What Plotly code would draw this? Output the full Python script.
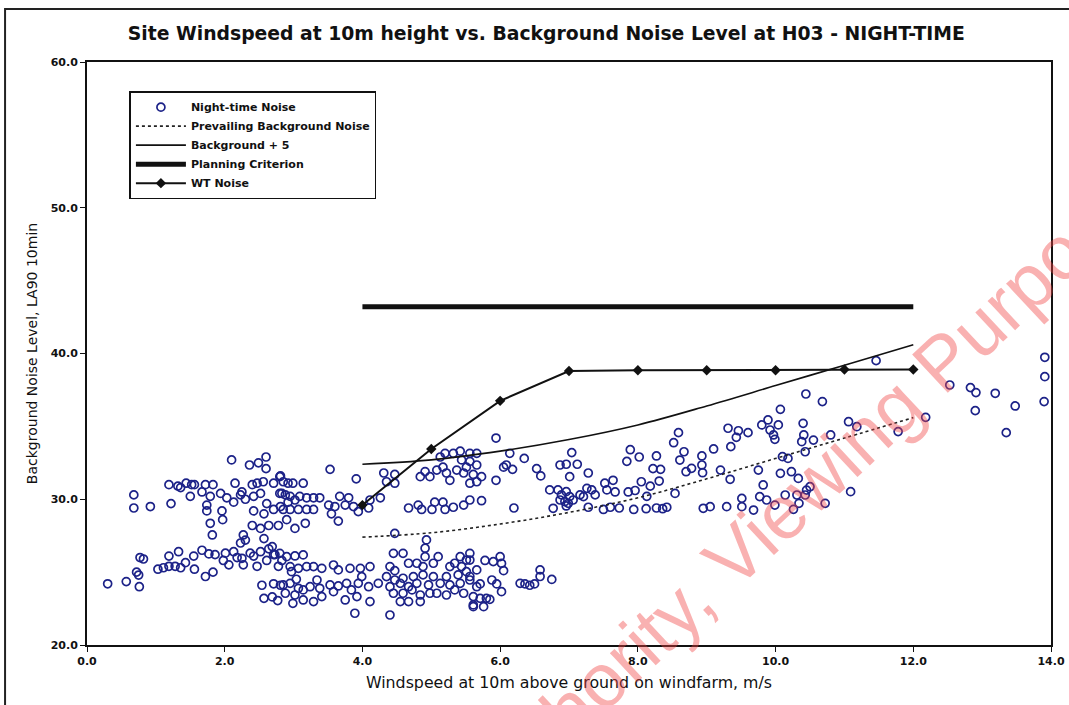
import plotly.graph_objects as go

# ---------------- data ----------------
night_ws = [
    2.1, 2.36, 2.49, 2.6, 2.6, 0.68, 0.68, 0.92, 1.22, 1.19, 1.32, 1.36, 1.44, 1.52, 1.56, 1.72, 1.83,
    1.5, 1.67, 1.79, 1.94, 2.03, 2.13, 2.23, 2.3, 2.42, 2.52, 2.15, 2.25, 2.4, 2.47, 2.56, 2.71, 2.81,
    2.83, 1.74, 1.74, 1.96, 1.97, 1.79, 1.82, 2.42, 2.61, 2.57, 2.71, 2.81, 2.4, 2.52, 2.64, 2.78,
    2.27, 2.3, 2.23, 2.57, 2.69, 2.71,
    0.3, 0.57, 0.76, 0.75, 0.72, 0.77, 0.82, 1.03, 1.11, 1.19, 1.28, 1.36, 1.43, 1.55, 1.56, 1.72,
    1.83, 1.19, 1.33, 1.67, 1.77, 1.86, 1.98, 2.01, 2.06, 2.13, 2.18, 2.25, 2.27, 2.37, 2.47, 2.42,
    2.52, 2.61, 2.64, 2.73, 2.78, 2.83, 2.54, 2.71, 2.81, 2.57, 2.69, 2.77,
    2.8, 2.85, 2.92, 2.99, 3.14, 3.53, 3.91, 2.8, 2.88, 2.95, 2.92, 3.02, 3.09, 3.19, 3.29, 3.38,
    3.51, 3.6, 3.67, 3.8, 3.75, 3.87, 2.85, 2.95, 3.07, 3.19, 3.29, 2.9, 3.02, 3.17, 3.55, 3.65,
    3.94, 4.09, 4.11, 4.26, 4.31, 4.35, 4.47, 4.47, 4.67, 4.81, 4.86, 5.01, 5.05, 5.17, 5.2, 5.32,
    5.47, 4.84, 4.91, 4.98, 5.08, 5.17, 5.22, 5.27, 5.13, 5.2, 5.32, 5.42, 5.44, 5.51, 5.37, 5.47,
    4.47,
    2.8, 2.9, 3.02, 3.14, 2.95, 3.07, 3.19, 3.29, 3.41, 3.58, 3.65, 3.82, 3.97, 4.11, 2.97, 2.85,
    2.95, 3.04, 3.07, 3.14, 3.24, 3.34, 3.38, 3.53, 3.65, 3.77, 3.84, 3.94, 4.09, 3.99, 4.23, 2.88,
    3.02, 3.14, 3.29, 3.41, 3.58, 3.75, 3.92, 4.11, 2.99, 3.89, 4.4,
    4.45, 4.59, 4.93, 4.91, 4.4, 4.47, 4.67, 4.79, 4.91, 4.88, 5.03, 5.1, 5.27, 5.34, 5.42, 5.44,
    5.51, 4.35, 4.47, 4.59, 4.74, 4.88, 5.03, 5.22, 5.39, 5.51, 5.66, 4.4, 4.55, 4.67, 4.79, 4.96,
    5.13, 5.27, 5.42, 5.56, 4.45, 4.59, 4.72, 4.84, 4.98, 5.08, 5.22, 5.34, 5.47, 5.61, 4.55, 4.67,
    4.84, 5.61,
    5.94, 5.56, 5.66, 5.56, 5.66, 5.61, 5.56, 5.66, 5.73, 5.94, 5.56, 5.73, 6.14, 6.09, 6.05, 6.18,
    6.35, 6.53, 6.59, 6.2, 6.87, 6.96, 7.04, 7.12, 7.01,
    6.72, 6.84, 6.89, 6.96, 7.01, 6.94, 7.06, 7.16, 7.26, 7.33, 7.38, 7.21, 6.87, 6.99, 6.77, 6.96,
    7.28, 7.28, 7.52, 7.64, 7.55, 7.67, 7.86, 7.96, 8.05, 8.18, 8.13, 7.84, 7.89, 8.02, 8.27, 8.22,
    8.33, 8.31, 7.5, 7.6, 7.73, 7.94, 8.12, 8.27, 8.36, 8.42,
    5.56, 5.56, 5.78, 5.9, 6.0, 6.02, 6.05, 5.56, 5.71, 5.66, 5.88, 5.95, 6.02, 5.71, 5.8, 5.85,
    5.61, 5.76, 6.29, 6.36, 6.5, 6.58, 6.58, 6.75, 6.43,
    8.59, 8.52, 8.67, 8.61, 8.7, 8.78, 8.93, 8.93, 8.94, 9.1, 9.2, 9.34, 9.35, 9.31, 9.46, 9.43,
    9.6, 9.51, 9.51, 9.29, 9.68, 9.77, 9.87, 9.99, 9.8, 9.89, 9.92, 9.97, 9.99, 10.04, 10.07, 10.1,
    10.18, 10.07, 10.23, 10.33, 9.75, 9.82, 10.14, 10.31, 10.34, 10.26, 10.43, 10.45, 10.5, 10.72,
    10.4, 10.41, 10.38, 10.55, 10.43, 10.44, 10.68, 10.8, 11.06, 11.18, 11.09, 8.54, 8.95, 9.05,
    11.46, 11.78, 12.18, 12.53, 12.83, 12.91, 13.19, 12.9, 13.48, 13.35, 13.91, 13.91, 13.9,
]
night_db = [
    32.7, 32.35, 32.5, 32.9, 32.1, 30.3, 29.4, 29.5, 29.7, 31.0, 30.9, 30.8, 31.1, 31.0, 31.0, 31.0, 31.0,
    30.2, 30.5, 30.2, 30.4, 30.1, 29.8, 30.3, 30.0, 30.2, 30.4, 31.1, 30.5, 31.0, 31.1, 31.2, 31.1, 31.6,
    30.4, 29.6, 29.2, 29.2, 28.6, 28.35, 27.55, 29.2, 29.7, 29.0, 29.3, 29.5, 28.2, 28.0, 28.2, 28.2,
    27.55, 27.2, 27.0, 27.3, 26.75, 26.2,
    24.2, 24.35, 24.0, 24.8, 25.0, 26.0, 25.9, 25.2, 25.3, 25.4, 25.4, 25.3, 25.65, 26.1, 25.2, 24.7,
    25.0, 26.1, 26.4, 26.5, 26.25, 26.2, 25.8, 26.3, 25.5, 26.4, 26.0, 25.95, 25.5, 26.3, 25.4, 26.1,
    26.4, 25.8, 26.6, 26.2, 25.4, 25.8, 24.1, 24.2, 24.1, 23.2, 23.3, 23.05,
    31.55, 31.2, 31.1, 31.1, 31.1, 32.05, 31.4, 30.4, 30.3, 30.2, 29.8, 29.95, 30.2, 30.1, 30.1, 30.1,
    29.6, 29.5, 30.2, 30.1, 29.6, 29.5, 29.3, 29.3, 29.3, 29.3, 29.3, 28.6, 28.0, 28.35, 29.0, 28.5,
    29.15, 29.4, 29.95, 30.1, 31.8, 31.2, 31.7, 31.1, 29.4, 29.6, 29.3, 29.3, 29.8, 29.8, 29.3, 29.45,
    29.6, 31.55, 31.9, 31.55, 32.0, 32.2, 31.8, 31.3, 32.9, 33.15, 33.15, 33.3, 32.7, 32.2, 32.0, 31.8,
    27.66,
    26.29, 26.06, 26.11, 26.18, 25.38, 25.26, 25.38, 25.38, 25.26, 25.49, 25.15, 25.26, 25.26, 25.38,
    25.03, 24.12, 24.23, 24.51, 23.89, 23.78, 24.0, 24.46, 23.89, 24.12, 24.05, 24.23, 23.78, 24.23,
    24.0, 24.69, 24.23, 23.55, 23.43, 23.09, 22.98, 23.32, 23.66, 23.09, 23.32, 22.98, 22.86, 22.18,
    22.06,
    26.29, 26.29, 27.21, 26.64, 25.38, 25.1, 25.61, 25.61, 26.06, 25.38, 25.61, 26.06, 25.38, 25.61,
    26.06, 25.38, 25.83, 24.69, 24.46, 24.58, 24.69, 24.81, 24.69, 24.69, 24.81, 25.03, 25.15, 24.0,
    24.23, 24.0, 24.23, 24.12, 24.23, 24.12, 24.23, 24.46, 23.55, 23.55, 23.78, 23.43, 23.55, 23.55,
    23.43, 23.78, 23.55, 23.32, 22.98, 22.98, 22.98, 22.63,
    34.2, 33.15, 33.15, 32.6, 32.35, 31.7, 31.1, 31.2, 31.55, 31.3, 29.95, 29.9, 33.15, 32.35, 32.2,
    32.05, 32.8, 32.1, 31.6, 29.4, 32.35, 32.4, 33.2, 32.4, 31.55,
    30.64, 30.64, 30.3, 30.52, 30.18, 29.84, 29.95, 30.3, 30.75, 30.64, 30.3, 30.18, 29.95, 29.72,
    29.38, 29.54, 29.45, 31.8, 31.1, 31.3, 30.64, 30.5, 30.5, 30.6, 31.2, 30.9, 30.2, 32.6, 33.4,
    32.9, 32.97, 32.1, 32.05, 31.25, 29.3, 29.45, 29.4, 29.3, 29.35, 29.4, 29.35, 29.45,
    26.29, 25.83, 25.8, 25.72, 26.06, 25.6, 25.1, 24.7, 24.19, 24.0, 24.46, 24.19, 23.66, 23.2, 23.2,
    23.13, 22.75, 22.63, 24.23, 24.19, 24.19, 24.7, 25.15, 24.5, 24.1,
    34.57, 33.88, 33.26, 32.69, 31.89, 32.12, 32.97, 32.35, 31.82, 33.45, 32.0, 31.37, 33.61, 34.87,
    34.7, 34.25, 34.57, 30.06, 29.49, 29.49, 29.26, 30.18, 29.95, 29.6, 35.1, 35.44, 34.75, 34.41,
    34.11, 35.1, 36.17, 32.92, 32.8, 31.78, 31.89, 31.43, 32.0, 30.98, 30.29, 30.29, 29.72, 29.31,
    30.29, 30.63, 30.86, 29.72, 35.21, 34.41, 33.95, 34.06, 33.26, 37.22, 36.7, 34.41, 35.32, 34.98,
    30.52, 30.4, 29.38, 29.49,
    39.51, 34.64, 35.62, 37.84, 37.66, 37.32, 37.27, 36.08, 36.4, 34.57, 39.74, 38.41, 36.7,
]

curve_ws = [4, 5, 6, 7, 8, 9, 10, 11, 12]
prevailing_bg = [27.4, 27.7, 28.3, 29.1, 30.1, 31.4, 32.8, 34.2, 35.6]
bg_plus5 = [32.4, 32.7, 33.3, 34.1, 35.1, 36.4, 37.8, 39.2, 40.6]
criterion_ws = [4, 12]
criterion_db = [43.2, 43.2]
wt_ws = [4, 5, 6, 7, 8, 9, 10, 11, 12]
wt_db = [29.6, 33.45, 36.75, 38.8, 38.85, 38.85, 38.85, 38.9, 38.9]

# ---------------- figure ----------------
TXT = "DejaVu Sans, Verdana, sans-serif"
fig = go.Figure()
fig.add_trace(go.Scatter(
    x=night_ws, y=night_db, mode="markers", name="Night-time Noise",
    marker=dict(symbol="circle-open", size=8, color="#1c2288", line=dict(width=1.7)),
))
fig.add_trace(go.Scatter(
    x=curve_ws, y=prevailing_bg, mode="lines", name="Prevailing Background Noise",
    line=dict(color="#222", width=1.6, dash="dot", shape="spline"),
))
fig.add_trace(go.Scatter(
    x=curve_ws, y=bg_plus5, mode="lines", name="Background + 5",
    line=dict(color="#111", width=1.6, shape="spline"),
))
fig.add_trace(go.Scatter(
    x=criterion_ws, y=criterion_db, mode="lines", name="Planning Criterion",
    line=dict(color="#111", width=5),
))
fig.add_trace(go.Scatter(
    x=wt_ws, y=wt_db, mode="lines+markers", name="WT Noise",
    line=dict(color="#111", width=2),
    marker=dict(symbol="diamond", size=8, color="#111"),
))

axis_common = dict(
    showline=True, mirror=True, linecolor="#111", linewidth=2, automargin=False,
    showgrid=False, zeroline=False, ticks="outside", ticklen=5, tickcolor="#111",
    tickformat=".1f", tickfont=dict(family=TXT, size=11, color="#111", weight="bold"),
)
fig.update_xaxes(range=[0, 14], dtick=2, tick0=0,
                 title=dict(text="Windspeed at 10m above ground on windfarm, m/s",
                            font=dict(family=TXT, size=15.8, color="#111"), standoff=10),
                 **axis_common)
fig.update_yaxes(range=[20, 60], dtick=10, tick0=20,
                 title=dict(text="Background Noise Level, LA90 10min",
                            font=dict(family=TXT, size=14, color="#111"), standoff=10),
                 **axis_common)

fig.update_layout(
    width=1069, height=705,
    margin=dict(l=87, r=18, t=62, b=60),
    paper_bgcolor="white", plot_bgcolor="white",
    title=dict(text="Site Windspeed at 10m height vs. Background Noise Level at H03 - NIGHT-TIME",
               x=0.511, xanchor="center", y=0.953, yanchor="middle",
               font=dict(family=TXT, size=18.8, color="#111", weight="bold")),
    legend=dict(x=0.044, y=0.95, xanchor="left", yanchor="top",
                bgcolor="white", bordercolor="#111", borderwidth=1.5,
                font=dict(family=TXT, size=11, color="#111", weight="bold"),
                itemwidth=50, tracegroupgap=0),
    showlegend=True,
)

# outer page frame
fig.add_shape(type="rect", xref="paper", yref="paper",
              x0=-0.085, x1=1.03, y0=-0.12, y1=1.091,
              line=dict(color="#222", width=2), layer="below")

# watermark
fig.add_annotation(text="Authority, Viewing Purposes", xref="paper", yref="paper",
                   x=0.755, y=0.283, xanchor="center", yanchor="middle",
                   textangle=-43, showarrow=False,
                   font=dict(family="Liberation Sans, Arial, sans-serif", size=76,
                             color="rgba(240,70,70,0.42)"))

fig.write_html("out.html", config={"displayModeBar": False},
               post_script="document.body.style.margin='0';document.body.style.overflow='hidden';")
